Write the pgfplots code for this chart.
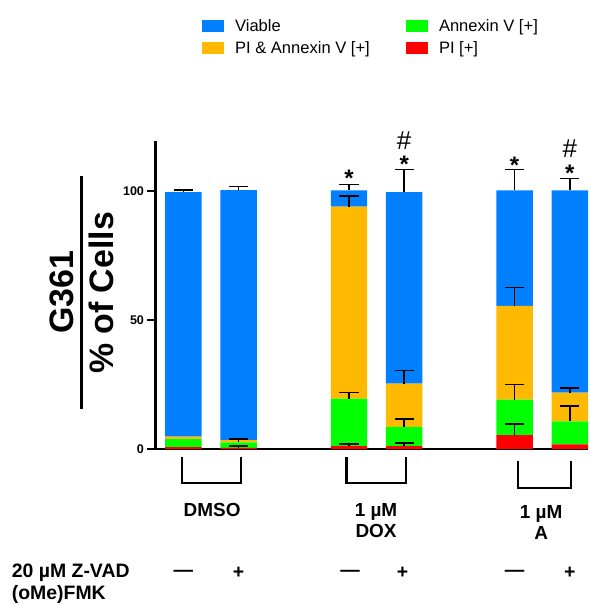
\documentclass[border=0pt]{standalone}
\usepackage{fontspec}
\setmainfont{Liberation Sans}
\usepackage{pgfplots}
\usepackage{pgfplotstable}
\pgfplotsset{compat=1.18}
\definecolor{cblue}{RGB}{0,128,255}
\definecolor{cyellow}{RGB}{255,185,0}
\definecolor{cgreen}{RGB}{0,255,0}
\definecolor{cred}{RGB}{255,0,0}

% segment heights (bottom to top): PI, Annexin V, PI & Annexin V, Viable
\pgfplotstableread{
x red green yellow blue
0 0.8 3.1 1.0 94.7
1 0.5 2.1 0.9 96.9
3 1.2 18.4 74.4 6.3
4 1.2 7.4 16.8 74.2
6 5.4 13.8 36.3 44.8
7 1.9 8.9 11.1 78.4
}\segs

% error bars: top of segment and its (upper) error
\pgfplotstableread{
x y e
1 0.5 0.7
3 1.2 0.7
4 1.2 1.3
6 5.4 4.4
1 2.6 1.4
3 19.6 2.3
4 8.6 3.0
6 19.2 5.8
7 10.8 6.0
3 94.0 4.1
4 25.4 5.1
6 55.5 7.1
7 21.9 1.8
0 99.6 0.7
1 100.4 1.4
3 100.3 2.2
4 99.6 8.8
6 100.3 8.0
7 100.3 4.6
}\errs

\tikzset{lab/.style={font=\fontsize{19}{21}\selectfont\bfseries, inner sep=0pt, align=center},
  sgn/.style={font=\fontsize{19.5}{21}\selectfont\bfseries, inner sep=0pt},
  star/.style={anchor=north, inner sep=0pt, font=\fontsize{24}{24}\selectfont\bfseries},
  hash/.style={inner sep=0pt, font=\fontsize{26}{26}\selectfont}}

\begin{document}
\begin{tikzpicture}
\begin{axis}[
  name=main,
  scale only axis, width=434pt, height=309pt,
  xmin=-0.506, xmax=7.33, ymin=0, ymax=119.3,
  enlargelimits=false, clip=false,
  ybar stacked, bar width=0.66,
  axis x line*=bottom, axis y line*=left,
  axis line style={line width=2.5pt},
  xtick=\empty,
  ytick={0,50,100}, yticklabels={0,50,100},
  tick align=outside, major tick length=8pt,
  tick style={line width=2pt, black},
  yticklabel style={font=\fontsize{12.6}{14}\selectfont\bfseries},
  legend columns=2, legend cell align=left,
  reverse legend, transpose legend,
  legend image code/.code={\fill[#1] (0pt,-6.3pt) rectangle (22.4pt,6.3pt);},
  legend style={draw=none, fill=none, at={(0.0998,1.41)}, anchor=north west,
    font=\fontsize{16.6}{19}\selectfont, row sep=4.5pt,
    /tikz/every odd column/.append style={column sep=9pt},
    /tikz/every even column/.append style={column sep=34pt}},
]
\addplot[fill=cred, draw=none] table[x=x, y=red] {\segs};
\addlegendentry{PI [+]}
\addplot[fill=cgreen, draw=none] table[x=x, y=green] {\segs};
\addlegendentry{Annexin V [+]}
\addplot[fill=cyellow, draw=none] table[x=x, y=yellow] {\segs};
\addlegendentry{PI \& Annexin V [+]}
\addplot[fill=cblue, draw=none] table[x=x, y=blue] {\segs};
\addlegendentry{Viable}

% brackets
\draw[line width=2.2pt] (axis cs:-0.03,-2.93) -- (axis cs:-0.03,-13.2) -- (axis cs:1.05,-13.2) -- (axis cs:1.05,-2.93);
\draw[line width=2.2pt] (axis cs:2.955,-2.93) -- (axis cs:2.955,-13.2) -- (axis cs:4.027,-13.2) -- (axis cs:4.027,-2.93);
\draw[line width=2.2pt] (axis cs:6.06,-4.63) -- (axis cs:6.06,-14.9) -- (axis cs:7.02,-14.9) -- (axis cs:7.02,-4.63);

% group labels
\node[lab] at (axis cs:0.52,-23.6) {DMSO};
\node[lab] at (axis cs:3.49,-27.6) {1 µM\\DOX};
\node[lab] at (axis cs:6.48,-28.5) {1 µM\\A};
\node[sgn] at (axis cs:0,-48) {—};
\node[sgn] at (axis cs:1,-48) {+};
\node[sgn] at (axis cs:3.02,-48) {—};
\node[sgn] at (axis cs:3.97,-48) {+};
\node[sgn] at (axis cs:6,-48) {—};
\node[sgn] at (axis cs:7,-48) {+};
\end{axis}

\begin{axis}[
  at={(main.south west)}, anchor=south west,
  scale only axis, width=434pt, height=309pt,
  xmin=-0.506, xmax=7.33, ymin=0, ymax=119.3,
  enlargelimits=false, clip=false,
  axis lines=none]
\addplot[draw=none, mark=none,
  error bars/.cd, y dir=plus, y explicit,
  error bar style={draw=black, solid, line width=1.6pt},
  error mark options={draw=black, solid, line width=1.6pt, mark size=9.6pt, rotate=90}]
  table[x=x, y=y, y error=e] {\errs};
% significance marks
\node[star] at (axis cs:3,108.1) {*};
\node[star] at (axis cs:4,113.8) {*};
\node[star] at (axis cs:6,113.3) {*};
\node[star] at (axis cs:7,110.3) {*};
\node[hash] at (axis cs:4,119.6) {\#};
\node[hash] at (axis cs:7,116.3) {\#};
\end{axis}

% y label
\begin{scope}[shift={(main.south west)}]
\node[rotate=90, inner sep=0pt, font=\fontsize{34}{36}\selectfont\bfseries] at (-94.3pt,157.7pt) {G361};
\node[rotate=90, inner sep=0pt, font=\fontsize{34}{36}\selectfont\bfseries] at (-54.3pt,156.7pt) {\% of Cells};
\draw[line width=2.5pt] (-74.3pt,274pt) -- (-74.3pt,40.7pt);
\node[anchor=base west, inner sep=0pt, font=\fontsize{19.5}{21}\selectfont\bfseries] at (-144.3pt,-128.6pt) {20 µM Z-VAD};
\node[anchor=base west, inner sep=0pt, font=\fontsize{19.5}{21}\selectfont\bfseries] at (-144.3pt,-151.3pt) {(oMe)FMK};
\path (-156pt,-153.3pt) rectangle (434pt,450.7pt);
\end{scope}
\end{tikzpicture}
\end{document}
